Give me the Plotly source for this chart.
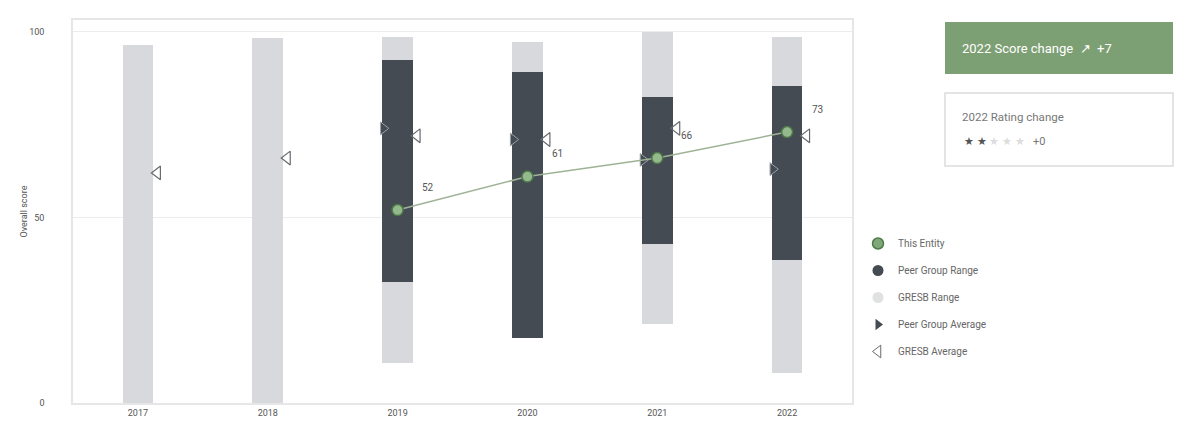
import plotly.graph_objects as go

years = ["2017", "2018", "2019", "2020", "2021", "2022"]
gresb_min = [0, 0, 10.8, 17.5, 21.3, 8.1]
gresb_max = [96.5, 98.4, 98.5, 97.4, 100, 98.5]
peer_min = [None, None, 32.7, 17.5, 42.9, 38.4]
peer_max = [None, None, 92.4, 89.3, 82.4, 85.4]
entity = [None, None, 52, 61, 66, 73]
peer_avg = [None, None, 74, 71, 65.5, 63]
gresb_avg = [62, 66, 72, 71, 74, 72]

score_change_text = "2022 Score change  ↗  +7"
rating_title = "2022 Rating change"
rating_stars = 2
rating_change = "+0"

FONT = "Roboto, Open Sans, sans-serif"
DARK = "#454b53"
LIGHT = "#d7d9dc"
GREEN = "#7d9f74"

xi = list(range(len(years)))
idx_ent = [i for i, v in enumerate(entity) if v is not None]
idx_peer = [i for i, v in enumerate(peer_avg) if v is not None]
idx_pr = [i for i, v in enumerate(peer_min) if v is not None]

fig = go.Figure()

fig.add_trace(go.Bar(
    x=xi, base=gresb_min, y=[b - a for a, b in zip(gresb_min, gresb_max)],
    width=0.235, marker=dict(color=LIGHT, line=dict(width=0)),
    showlegend=False, hoverinfo="skip"))
fig.add_trace(go.Bar(
    x=[xi[i] for i in idx_pr], base=[peer_min[i] for i in idx_pr],
    y=[peer_max[i] - peer_min[i] for i in idx_pr],
    width=0.235, marker=dict(color=DARK, line=dict(width=0)),
    showlegend=False, hoverinfo="skip"))

fig.add_trace(go.Scatter(
    x=[xi[i] - 0.11 for i in idx_peer], y=[peer_avg[i] for i in idx_peer],
    mode="markers", marker=dict(symbol="triangle-right", size=11, color=DARK,
                                line=dict(color="#9aa0a6", width=1)),
    showlegend=False))
fig.add_trace(go.Scatter(
    x=[i + 0.15 for i in xi], y=gresb_avg,
    mode="markers", marker=dict(symbol="triangle-left-open", size=12, color="#666b70",
                                line=dict(width=1.2)),
    showlegend=False))

fig.add_trace(go.Scatter(
    x=[xi[i] for i in idx_ent], y=[entity[i] for i in idx_ent],
    mode="lines+markers", line=dict(color="#9fb296", width=1.5),
    marker=dict(symbol="circle", size=11, color="#94b98c",
                line=dict(color="#4c7a48", width=1.5)),
    showlegend=False))

for i in idx_ent:
    fig.add_annotation(x=xi[i], y=entity[i], text=str(entity[i]), showarrow=False,
                       xshift=30, yshift=23, font=dict(size=10, color="#555", family=FONT))

# legend entries
leg = [
    ("This Entity", dict(symbol="circle", size=11, color="#7fa878", line=dict(color="#4c7a48", width=1.5))),
    ("Peer Group Range", dict(symbol="circle", size=11, color=DARK)),
    ("GRESB Range", dict(symbol="circle", size=11, color="#e0e1e3")),
    ("Peer Group Average", dict(symbol="triangle-right", size=10, color=DARK)),
    ("GRESB Average", dict(symbol="triangle-left-open", size=11, color="#666b70")),
]
for k, (name, m) in enumerate(leg):
    fig.add_trace(go.Scatter(x=[None], y=[None], mode="markers", name=name,
                             marker=m, legendgroup=f"g{k}"))

# pixel helpers
L, R, T, B = 73, 852, 20, 403
def px(x):
    return (x - L) / (R - L)
def py(y):
    return (B - y) / (B - T)

shapes = [
    dict(type="rect", xref="paper", yref="paper", x0=px(945), x1=px(1173), y0=py(74), y1=py(22),
         fillcolor=GREEN, line=dict(width=0), layer="above"),
    dict(type="rect", xref="paper", yref="paper", x0=px(945), x1=px(1173), y0=py(166), y1=py(93),
         fillcolor="white", line=dict(color="#dcdcdc", width=1.5), layer="above"),
]
fig.update_layout(shapes=shapes)

fig.add_annotation(xref="paper", yref="paper", x=px(960), y=py(48), xanchor="left", yanchor="middle",
                   text=score_change_text, showarrow=False,
                   font=dict(size=13, color="white", family=FONT))
fig.add_annotation(xref="paper", yref="paper", x=px(960), y=py(117), xanchor="left", yanchor="middle",
                   text=rating_title, showarrow=False,
                   font=dict(size=11.5, color="#777", family=FONT))
stars = "".join(
    f'<span style="color:{"#555" if s < rating_stars else "#dddddd"}">★</span> ' for s in range(5))
fig.add_annotation(xref="paper", yref="paper", x=px(962), y=py(141), xanchor="left", yanchor="middle",
                   text=stars + "  " + rating_change, showarrow=False,
                   font=dict(size=11, color="#777", family=FONT))

fig.update_layout(
    width=1178, height=425,
    margin=dict(l=L, r=1178 - R, t=T, b=425 - B, autoexpand=False),
    paper_bgcolor="white", plot_bgcolor="white",
    barmode="overlay", bargap=0,
    font=dict(family=FONT, size=9, color="#555"),
    xaxis=dict(tickmode="array", tickvals=xi, ticktext=years, range=[-0.5, 5.5], automargin=False,
               showgrid=False, zeroline=False, showline=True, mirror=True,
               linecolor="#e6e6e6", linewidth=1.5, ticks="", tickfont=dict(size=9, color="#555")),
    yaxis=dict(range=[0, 103.2], tickvals=[0, 50, 100], showgrid=True, gridcolor="#ececec",
               automargin=False,
               zeroline=False, showline=True, mirror=True, linecolor="#e6e6e6", linewidth=1.5,
               ticks="", ticklabelstandoff=25, tickfont=dict(size=9, color="#555"),
               title=dict(text="Overall score", font=dict(size=9, color="#555"), standoff=0)),
    legend=dict(x=px(858), y=py(229), xanchor="left", yanchor="top",
                font=dict(size=10, color="#666", family=FONT),
                tracegroupgap=8, bgcolor="rgba(0,0,0,0)"),
)

fig.write_html("out.html", config={"displayModeBar": False},
               post_script="document.body.style.margin='0';document.body.style.padding='0';")
